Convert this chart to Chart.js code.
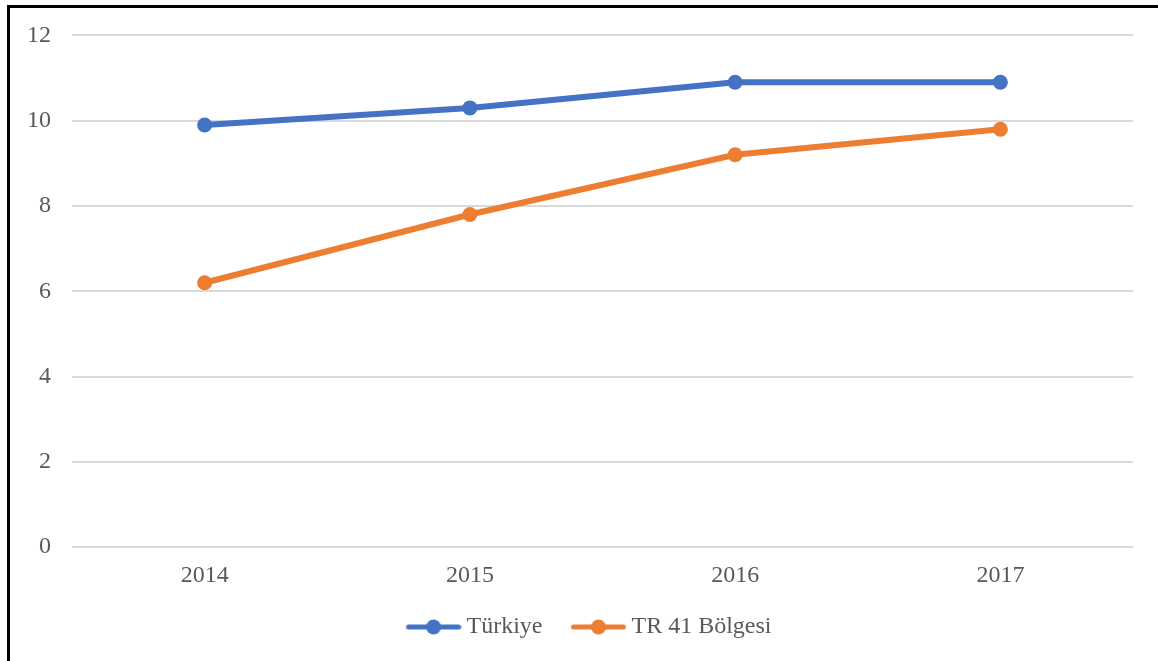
<!DOCTYPE html>
<html>
<head>
<meta charset="utf-8">
<script src="https://cdn.jsdelivr.net/npm/chart.js@4"></script>
<style>
  html, body { margin: 0; padding: 0; background: #fff; }
  #wrap { position: relative; width: 1158px; height: 661px; overflow: hidden; }
  #frame { position: absolute; left: 7px; top: 5px; right: -10px; bottom: -10px;
           border-left: 3px solid #000; border-top: 3px solid #000; pointer-events: none; }
  canvas { position: absolute; left: 0; top: 0; }
</style>
</head>
<body>
<div id="wrap">
  <canvas id="c" width="1158" height="661"></canvas>
  <div id="frame"></div>
</div>
<script>
const categories = ['2014', '2015', '2016', '2017'];
const turkiye = [9.9, 10.3, 10.9, 10.9];
const tr41 = [6.2, 7.8, 9.2, 9.8];
const seriesNames = ['Türkiye', 'TR 41 Bölgesi'];
const yTicks = [0, 2, 4, 6, 8, 10, 12];

const BLUE = '#4472C4';
const ORANGE = '#ED7D31';

// legend marker: line with a dot, drawn into the right part of a wider image
const MARK_BOX = 64;            // legend box width used by Chart.js
const IMG_W = MARK_BOX + 14;    // image width (centered on the box)
function legendMarker(color) {
  const c = document.createElement('canvas');
  c.width = IMG_W; c.height = 16;
  const ctx = c.getContext('2d');
  const x0 = IMG_W - 56;
  ctx.strokeStyle = color;
  ctx.lineWidth = 5;
  ctx.lineCap = 'round';
  ctx.beginPath();
  ctx.moveTo(x0 + 3, 8); ctx.lineTo(x0 + 53, 8);
  ctx.stroke();
  ctx.fillStyle = color;
  ctx.beginPath();
  ctx.arc(x0 + 28, 8, 7.5, 0, Math.PI * 2);
  ctx.fill();
  return c;
}

const FONT = 'Liberation Serif, "Times New Roman", serif';

new Chart(document.getElementById('c'), {
  type: 'line',
  data: {
    labels: categories,
    datasets: [
      { label: seriesNames[0], data: turkiye, borderColor: BLUE, backgroundColor: BLUE,
        borderWidth: 6, pointRadius: 7.5, pointBackgroundColor: BLUE, pointBorderWidth: 0,
        pointStyle: 'circle', tension: 0, borderCapStyle: 'round' },
      { label: seriesNames[1], data: tr41, borderColor: ORANGE, backgroundColor: ORANGE,
        borderWidth: 6, pointRadius: 7.5, pointBackgroundColor: ORANGE, pointBorderWidth: 0,
        pointStyle: 'circle', tension: 0, borderCapStyle: 'round' }
    ]
  },
  options: {
    responsive: false,
    animation: false,
    layout: { padding: { left: 29, right: 25, top: 35, bottom: 12 } },
    scales: {
      x: {
        offset: true,
        grid: { display: false },
        border: { display: false },
        afterFit: (s) => { s.height += 6; },
        ticks: { color: '#595959', font: { family: FONT, size: 24 }, padding: 6 }
      },
      y: {
        min: 0, max: 12,
        afterBuildTicks: (s) => { s.ticks = yTicks.map(v => ({ value: v })); },
        afterFit: (s) => { s.width = 43; },
        grid: { color: '#d9d9d9', lineWidth: 2, drawTicks: false },
        border: { display: false },
        ticks: { color: '#595959', font: { family: FONT, size: 24 }, padding: 21 }
      }
    },
    plugins: {
      tooltip: { enabled: false },
      legend: {
        position: 'bottom',
        labels: {
          color: '#595959',
          font: { family: FONT, size: 24 },
          usePointStyle: true,
          pointStyleWidth: MARK_BOX,
          boxHeight: 16,
          padding: 13,
          generateLabels: (chart) => chart.data.datasets.map((d, i) => ({
            text: d.label,
            pointStyle: legendMarker(d.borderColor),
            fillStyle: d.borderColor,
            strokeStyle: d.borderColor,
            lineWidth: 0,
            hidden: false,
            datasetIndex: i,
            fontColor: '#595959'
          }))
        }
      }
    }
  }
});
</script>
</body>
</html>
